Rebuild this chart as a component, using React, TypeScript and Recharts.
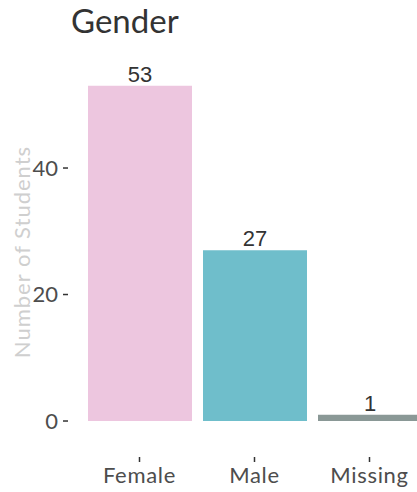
import { BarChart, Bar, XAxis, YAxis, Cell, LabelList } from 'recharts';

const categories = ['Female', 'Male', 'Missing'];
const counts = [53, 27, 1];
const barColors = ['#EDC6DF', '#6FBECB', '#8A9896'];
const yTicks = [0, 20, 40];

const data = categories.map((gender, i) => ({ gender, count: counts[i] }));

const axisFont = 'Lato, "Open Sans", sans-serif';

const YTitle = (props: any) => {
  const vb = props.viewBox || { x: 0, y: 0, width: 0, height: 0 };
  const cx = vb.x + 21;
  const cy = vb.y + vb.height / 2 + 4;
  return (
    <text
      x={cx}
      y={cy}
      transform={`rotate(-90 ${cx} ${cy})`}
      textAnchor="middle"
      dominantBaseline="central"
      fill="#cfcfcf"
      fontFamily={axisFont}
      fontSize={22}
      letterSpacing={1}
    >
      Number of Students
    </text>
  );
};

export default function App() {
  return (
    <div
      style={{
        position: 'fixed',
        left: 0,
        top: 0,
        width: 417,
        height: 492,
        overflow: 'hidden',
        background: '#fff',
      }}
    >
      <div
        style={{
          position: 'absolute',
          left: 71,
          top: 0,
          fontFamily: axisFont,
          fontSize: 33,
          color: '#333',
          lineHeight: 'normal',
        }}
      >
        Gender
      </div>
      <BarChart
        width={441}
        height={492}
        data={data}
        margin={{ top: 39, right: 0, bottom: 0, left: 0 }}
        style={{ position: 'absolute', left: 0, top: 0 }}
      >
        <XAxis
          dataKey="gender"
          height={35}
          axisLine={false}
          tickSize={5}
          tickMargin={5}
          padding={{ left: 14, right: 14 }}
          tickLine={{ stroke: '#333', strokeWidth: 1.5 }}
          tick={{ fill: '#4d4d4d', fontSize: 22, fontFamily: axisFont, letterSpacing: 0.7 }}
        />
        <YAxis
          width={68}
          type="number"
          domain={[-5.69, 60.4]}
          ticks={yTicks}
          axisLine={false}
          tickSize={5}
          tickMargin={5}
          tickLine={{ stroke: '#333', strokeWidth: 1.5 }}
          tick={{ fill: '#4d4d4d', fontSize: 22, fontFamily: axisFont }}
          label={(props: any) => <YTitle {...props} />}
        />
        <Bar dataKey="count" barSize={104} isAnimationActive={false}>
          {data.map((d, i) => (
            <Cell key={d.gender} fill={barColors[i]} />
          ))}
          <LabelList
            dataKey="count"
            position="top"
            offset={4}
            fill="#333"
            fontSize={22}
            fontFamily='"Liberation Sans", Arial, sans-serif'
          />
        </Bar>
      </BarChart>
    </div>
  );
}
